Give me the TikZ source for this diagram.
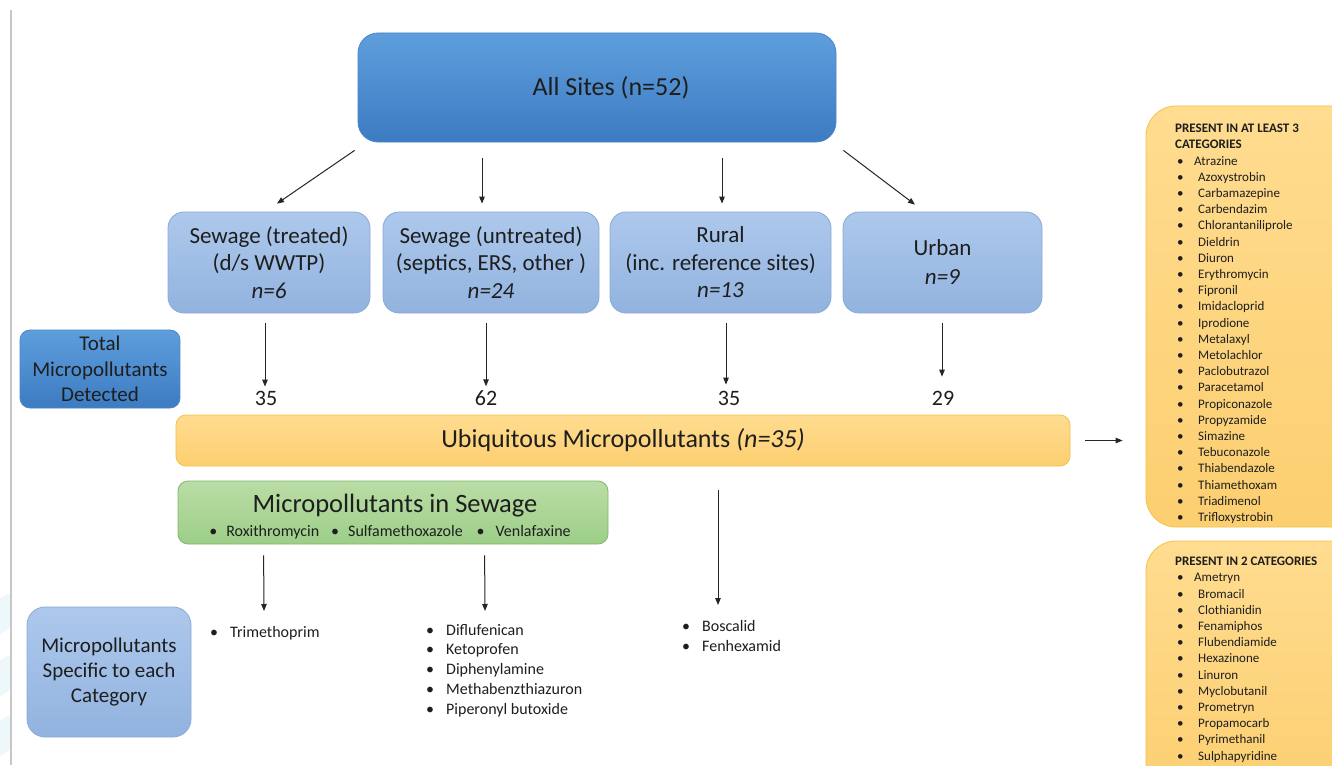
\documentclass[tikz,border=0pt]{standalone}
\usepackage{fontspec}
\setmainfont{Carlito}
\usetikzlibrary{arrows.meta,calc}
\definecolor{txt}{HTML}{1E1E1E}
\definecolor{dbTop}{HTML}{5E9EDC}
\definecolor{dbBot}{HTML}{3D7BC2}
\definecolor{dbLine}{HTML}{4A86C8}
\definecolor{lbTop}{HTML}{ADC8EC}
\definecolor{lbBot}{HTML}{92B3DF}
\definecolor{lbLine}{HTML}{88AAD8}
\definecolor{orTop}{HTML}{FFDC90}
\definecolor{orBot}{HTML}{FCCF70}
\definecolor{orLine}{HTML}{F3C244}
\definecolor{grTop}{HTML}{BADDA6}
\definecolor{grBot}{HTML}{9DCE88}
\definecolor{grLine}{HTML}{7FB86C}
\definecolor{pale}{HTML}{EEF8FB}
\newcommand\itm[1]{\makebox[20pt][l]{•}#1}
\newcommand\itmo[1]{\hspace*{2pt}\makebox[21pt][l]{•}#1}
\begin{document}
\begin{tikzpicture}[x=1pt,y=-1pt,
  box/.style={rounded corners=16pt, align=center, text=txt, inner sep=0pt, line width=0.8pt},
  darkbox/.style={box, top color=dbTop, bottom color=dbBot, draw=dbLine},
  lightbox/.style={box, top color=lbTop, bottom color=lbBot, draw=lbLine},
  orangebox/.style={box, top color=orTop, bottom color=orBot, draw=orLine},
  greenbox/.style={box, top color=grTop, bottom color=grBot, draw=grLine},
  catfont/.style={font=\fontsize{23}{27.5}\selectfont},
  lbl/.style={text=txt, inner sep=0pt},
  listtxt/.style={lbl, align=left, anchor=north west, font=\fontsize{16}{19.7}\selectfont},
  sidetxt/.style={lbl, align=left, anchor=north west, font=\fontsize{13}{16.2}\selectfont},
  arr/.style={-{Triangle[length=7pt,width=5.5pt]}, line width=1pt, draw=black!85}]
\useasboundingbox (0,0) rectangle (1332,765);
\clip (0,0) rectangle (1332,765);
\fill[white] (0,0) rectangle (1332,765);
% faint background chevrons
\fill[pale] (0,598) -- (10,593) -- (10,628) -- (0,634) -- cycle;
\fill[pale] (0,660) -- (10,655) -- (10,690) -- (0,696) -- cycle;
\fill[pale] (0,720) -- (10,715) -- (10,750) -- (0,756) -- cycle;
\draw[black!22, line width=1.5pt] (11,10) -- (11,765);

% top
\node[darkbox, minimum width=478pt, minimum height=109pt, rounded corners=20pt,
  font=\fontsize{26}{30}\selectfont] (all) at (597,87.5) {\hspace*{28pt}All Sites (n=52)};

% categories
\node[lightbox, catfont, minimum width=202pt, minimum height=101pt] (c1) at (269,262.5)
  {Sewage (treated)\\(d/s WWTP)\\\textit{n=6}};
\node[lightbox, catfont, minimum width=216pt, minimum height=101pt] (c2) at (491,262.5)
  {Sewage (untreated)\\(septics, ERS, other )\\\textit{n=24}};
\node[lightbox, catfont, minimum width=221pt, minimum height=101pt] (c3) at (720.5,262.5)
  {Rural\\(inc. reference sites)\\\textit{n=13}};
\node[lightbox, font=\fontsize{23}{29}\selectfont, minimum width=199pt, minimum height=101pt] (c4) at (942.5,262.5)
  {Urban\\\textit{n=9}};

\draw[arr] ($(all.south west)+(-3,8)$) -- ($(c1.north)+(8,-8)$);
\draw[arr] ($(all.south)+(-115,16)$) -- ($(c2.north)+(-9,-8)$);
\draw[arr] ($(all.south)+(125,16)$) -- ($(c3.north)+(1.5,-8)$);
\draw[arr] ($(all.south east)+(7,8)$) -- ($(c4.north)+(-27.5,-7)$);

% totals
\node[darkbox, minimum width=160pt, minimum height=78pt, rounded corners=10pt,
  font=\fontsize{21}{25.5}\selectfont] (tot) at (100,369) {Total\\Micropollutants\\Detected};
\node[lbl, font=\fontsize{22}{26}\selectfont] (n1) at (266,398) {35};
\node[lbl, font=\fontsize{22}{26}\selectfont] (n2) at (486,398) {62};
\node[lbl, font=\fontsize{22}{26}\selectfont] (n3) at (729,398) {35};
\node[lbl, font=\fontsize{22}{26}\selectfont] (n4) at (943,398) {29};
\draw[arr] ($(c1.south)+(-4,10)$) -- ($(n1.north)+(-1,-4)$);
\draw[arr] ($(c2.south)+(-5,10)$) -- ($(n2.north)+(0,-4)$);
\draw[arr] ($(c3.south)+(5.5,10)$) -- ($(n3.north)+(-3,-6)$);
\draw[arr] ($(c4.south)+(-0.5,10)$) -- ($(n4.north)+(-1,-14)$);

% ubiquitous
\node[orangebox, minimum width=894pt, minimum height=51pt, rounded corners=10pt,
  font=\fontsize{26}{30}\selectfont] (ubq) at (623,440.5) {\raisebox{-2pt}{Ubiquitous Micropollutants \textit{(n=35)}}};

% side boxes
\node[orangebox, minimum width=214pt, minimum height=421pt, rounded corners=30pt] (o1) at (1253,316.5) {};
\node[orangebox, minimum width=214pt, minimum height=260pt, rounded corners=30pt] (o2) at (1253,671) {};
\draw[arr] ($(ubq.east)+(15,0)$) -- ($(ubq.east -| o1.west)+(-23,0)$);

\node[sidetxt] (o1t) at (1175,124) {\textbf{PRESENT IN AT LEAST 3}\\\textbf{CATEGORIES}\\
\hspace*{2pt}\makebox[17pt][l]{•}Atrazine\\
\itmo{Azoxystrobin}\\ \itmo{Carbamazepine}\\ \itmo{Carbendazim}\\ \itmo{Chlorantaniliprole}\\
\itmo{Dieldrin}\\ \itmo{Diuron}\\ \itmo{Erythromycin}\\ \itmo{Fipronil}\\ \itmo{Imidacloprid}\\
\itmo{Iprodione}\\ \itmo{Metalaxyl}\\ \itmo{Metolachlor}\\ \itmo{Paclobutrazol}\\ \itmo{Paracetamol}\\
\itmo{Propiconazole}\\ \itmo{Propyzamide}\\ \itmo{Simazine}\\ \itmo{Tebuconazole}\\ \itmo{Thiabendazole}\\
\itmo{Thiamethoxam}\\ \itmo{Triadimenol}\\ \itmo{Trifloxystrobin}};

\node[sidetxt] (o2t) at (1175,557) {\textbf{PRESENT IN 2 CATEGORIES}\\
\hspace*{2pt}\makebox[17pt][l]{•}Ametryn\\
\itmo{Bromacil}\\ \itmo{Clothianidin}\\ \itmo{Fenamiphos}\\ \itmo{Flubendiamide}\\ \itmo{Hexazinone}\\
\itmo{Linuron}\\ \itmo{Myclobutanil}\\ \itmo{Prometryn}\\ \itmo{Propamocarb}\\ \itmo{Pyrimethanil}\\
\itmo{Sulphapyridine}};

% sewage box
\node[greenbox, minimum width=430pt, minimum height=63pt, rounded corners=10pt] (gr) at (393,512.5) {};
\node[lbl, font=\fontsize{26.5}{30}\selectfont] (grt) at (395,506) {Micropollutants in Sewage};
\node[lbl, font=\fontsize{16}{19}\selectfont] (grb) at (390,532)
  {•\hspace{9pt}Roxithromycin\hspace{12pt}•\hspace{9pt}Sulfamethoxazole\hspace{14pt}•\hspace{11pt}Venlafaxine};

% specific
\node[lightbox, minimum width=164pt, minimum height=130pt, rounded corners=18pt,
  font=\fontsize{21}{25}\selectfont] (spec) at (109,672) {Micropollutants\\Specific to each\\Category};

\node[listtxt] (b1) at (210,626) {\itm{Trimethoprim}};
\node[listtxt] (b2) at (426,624) {\itm{Diflufenican}\\ \itm{Ketoprofen}\\ \itm{Diphenylamine}\\ \itm{Methabenzthiazuron}\\ \itm{Piperonyl butoxide}};
\node[listtxt] (b3) at (682,620) {\itm{Boscalid}\\ \itm{Fenhexamid}};

\draw[arr] ($(gr.south west)+(86,11)$) -- ($(b1.north west)+(54,-15)$);
\draw[arr] ($(gr.south west)+(307,11)$) -- ($(b2.north west)+(59,-13)$);
\draw[arr] ($(ubq.south)+(95,24)$) -- ($(b3.north west)+(36,-15)$);
\end{tikzpicture}
\end{document}
